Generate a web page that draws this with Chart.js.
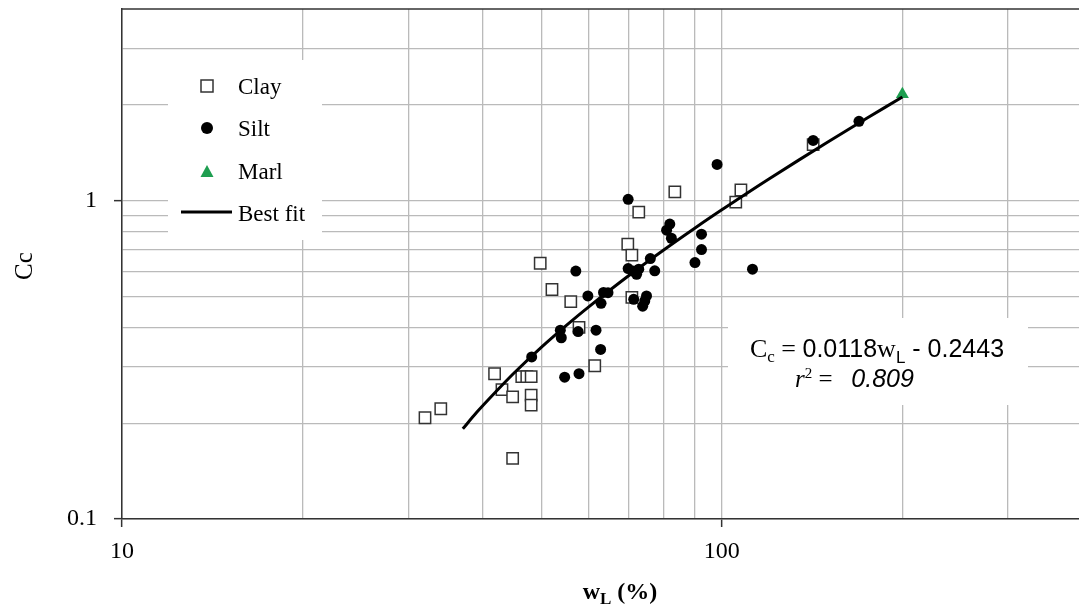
<!DOCTYPE html>
<html lang="en">
<head>
<meta charset="UTF-8">
<title>Cc vs wL</title>
<script src="https://cdn.jsdelivr.net/npm/chart.js"></script>
<style>
  html, body { margin: 0; padding: 0; background: #fff; overflow: hidden; }
  canvas { display: block; }
</style>
</head>
<body>
<canvas id="chart" width="1079" height="608"></canvas>
<script>
// values (log-log axes)
const clayX = [32.0, 34.0, 41.8, 43.0, 44.8, 44.8, 46.4, 47.3, 48.1, 48.1, 48.1, 49.8, 52.1, 56.0, 57.8, 61.4, 69.7, 70.8, 70.8, 72.7, 83.5, 105.5, 107.6, 142];
const clayY = [0.208, 0.222, 0.286, 0.255, 0.242, 0.155, 0.280, 0.280, 0.280, 0.245, 0.228, 0.636, 0.526, 0.482, 0.400, 0.303, 0.730, 0.674, 0.497, 0.920, 1.065, 0.99, 1.08, 1.50];

const siltX = [98.2, 69.8, 81.9, 80.9, 82.4, 92.5, 92.5, 90.2, 76.0, 112.5, 77.3, 69.8, 71.1, 72.1, 72.7, 57.1, 59.8, 63.5, 64.6, 62.9, 71.3, 74.9, 74.4, 73.8, 53.8, 54.0, 57.6, 61.7, 62.8, 48.2, 54.7, 57.8, 142, 169.3];
const siltY = [1.30, 1.01, 0.844, 0.808, 0.762, 0.785, 0.702, 0.639, 0.658, 0.609, 0.602, 0.612, 0.601, 0.587, 0.609, 0.601, 0.502, 0.515, 0.514, 0.476, 0.490, 0.502, 0.484, 0.466, 0.392, 0.371, 0.388, 0.392, 0.341, 0.323, 0.279, 0.286, 1.546, 1.775];

const marlX = [200];
const marlY = [2.16];

// best fit curve
const fitX = [37, 39, 42, 45, 50, 55, 60, 70, 80, 90, 100, 120, 150, 175, 200];
const fitY = [0.192, 0.216, 0.251, 0.287, 0.346, 0.405, 0.464, 0.582, 0.700, 0.818, 0.936, 1.172, 1.526, 1.821, 2.116];

const xTicks = [10, 20, 30, 40, 50, 60, 70, 80, 90, 100, 200, 300];
const yTicks = [0.1, 0.2, 0.3, 0.4, 0.5, 0.6, 0.7, 0.8, 0.9, 1, 2, 3];
const xLabels = [10, 100];
const yLabels = [0.1, 1];

const green = '#1e9e50';
const gridColor = '#bababa';
const frameColor = '#333';

function pts(xs, ys) {
    return xs.map((x, i) => ({ x: x, y: ys[i] }));
}

// draw a row of text pieces: [text, font, dy]
function drawRuns(ctx, runs, x, y) {
    let cx = x;
    runs.forEach(r => {
        ctx.font = r[1];
        ctx.fillText(r[0], cx, y + (r[2] || 0));
        cx += ctx.measureText(r[0]).width;
    });
    return cx;
}
function runsWidth(ctx, runs) {
    let w = 0;
    runs.forEach(r => { ctx.font = r[1]; w += ctx.measureText(r[0]).width; });
    return w;
}

const serif = '"Liberation Serif", "Times New Roman", serif';
const sans = '"Liberation Sans", Arial, sans-serif';

const overlay = {
    id: 'overlay',
    beforeDatasetsDraw(chart) {
        const ctx = chart.ctx;
        const area = chart.chartArea;
        ctx.save();

        // white boxes behind legend and equation
        ctx.fillStyle = '#fff';
        ctx.fillRect(168, 60, 154, 180);
        ctx.fillRect(728, 318, 300, 87);

        // top frame line
        ctx.strokeStyle = frameColor;
        ctx.lineWidth = 1.5;
        ctx.beginPath();
        ctx.moveTo(area.left, area.top);
        ctx.lineTo(area.right, area.top);
        ctx.stroke();

        // legend
        ctx.fillStyle = '#000';
        ctx.textAlign = 'left';
        ctx.textBaseline = 'alphabetic';
        ctx.font = '23px ' + serif;
        ctx.fillText('Clay', 238, 94);
        ctx.fillText('Silt', 238, 136);
        ctx.fillText('Marl', 238, 179);
        ctx.fillText('Best fit', 238, 221);

        ctx.strokeStyle = '#333';
        ctx.lineWidth = 1.5;
        ctx.fillStyle = '#fff';
        ctx.fillRect(201, 80, 12, 12);
        ctx.strokeRect(201, 80, 12, 12);

        ctx.fillStyle = '#000';
        ctx.beginPath();
        ctx.arc(207, 128, 6, 0, Math.PI * 2);
        ctx.fill();

        ctx.fillStyle = green;
        ctx.beginPath();
        ctx.moveTo(207, 165);
        ctx.lineTo(213.5, 177);
        ctx.lineTo(200.5, 177);
        ctx.closePath();
        ctx.fill();

        ctx.strokeStyle = '#000';
        ctx.lineWidth = 3;
        ctx.beginPath();
        ctx.moveTo(181, 212);
        ctx.lineTo(232, 212);
        ctx.stroke();

        // equation
        ctx.fillStyle = '#000';
        const eq = [
            ['C', '26px ' + serif],
            ['c', '17px ' + serif, 5],
            [' = ', '26px ' + serif],
            ['0.0118', '25px ' + sans],
            ['w', '26px ' + serif],
            ['L', '17px ' + sans, 6],
            [' - 0.2443', '25px ' + sans]
        ];
        const w = runsWidth(ctx, eq);
        drawRuns(ctx, eq, 877 - w / 2, 357);
        const r2 = [
            ['r', 'italic 25px ' + serif],
            ['2', '15px ' + serif, -9],
            [' =   ', '25px ' + serif],
            ['0.809', 'italic 25px ' + sans]
        ];
        drawRuns(ctx, r2, 795, 387);

        ctx.restore();
    },
    afterDraw(chart) {
        const ctx = chart.ctx;
        ctx.save();
        ctx.fillStyle = '#000';
        ctx.textBaseline = 'alphabetic';

        // y title
        ctx.save();
        ctx.translate(32, 266);
        ctx.rotate(-Math.PI / 2);
        ctx.textAlign = 'center';
        ctx.font = '25px ' + serif;
        ctx.fillText('Cc', 0, 0);
        ctx.restore();

        // x title
        ctx.textAlign = 'left';
        const xt = [
            ['w', 'bold 24px ' + serif],
            ['L', 'bold 17px ' + serif, 5],
            [' (%)', 'bold 24px ' + serif]
        ];
        const w = runsWidth(ctx, xt);
        drawRuns(ctx, xt, 620 - w / 2, 599);
        ctx.restore();
    }
};

const tickCol = (c) => {
    const v = c.tick ? c.tick.value : null;
    return (v === 10 || v === 100 || v === 0.1 || v === 1) ? frameColor : 'rgba(0,0,0,0)';
};

new Chart(document.getElementById('chart'), {
    type: 'scatter',
    data: {
        datasets: [
            {
                label: 'Best fit',
                type: 'line',
                data: pts(fitX, fitY),
                borderColor: '#000',
                borderWidth: 3,
                pointRadius: 0,
                fill: false,
                tension: 0.3
            },
            {
                label: 'Silt',
                data: pts(siltX, siltY),
                pointStyle: 'circle',
                pointRadius: 5.5,
                backgroundColor: '#000',
                borderColor: '#000',
                borderWidth: 0
            },
            {
                label: 'Clay',
                data: pts(clayX, clayY),
                pointStyle: 'rect',
                pointRadius: 8,
                backgroundColor: '#fff',
                borderColor: '#333',
                borderWidth: 1.5
            },
            {
                label: 'Marl',
                data: pts(marlX, marlY),
                pointStyle: 'triangle',
                pointRadius: 7.5,
                backgroundColor: green,
                borderColor: green,
                borderWidth: 0
            }
        ]
    },
    options: {
        responsive: false,
        animation: false,
        devicePixelRatio: 1,
        layout: { autoPadding: false, padding: { top: 9, right: 0, left: 0, bottom: 0 } },
        plugins: {
            legend: { display: false },
            tooltip: { enabled: false }
        },
        scales: {
            x: {
                type: 'logarithmic',
                min: 10,
                max: 394,
                afterBuildTicks: (s) => { s.ticks = xTicks.map(v => ({ value: v })); },
                afterFit: (s) => {
                    s.height = 89;
                    s.paddingLeft = 0;
                    s.paddingRight = 0;
                },
                grid: {
                    color: gridColor,
                    lineWidth: 1.3,
                    tickLength: 8,
                    tickColor: tickCol,
                    tickWidth: 1.5
                },
                border: { color: frameColor, width: 1.5 },
                ticks: {
                    autoSkip: false,
                    maxRotation: 0,
                    padding: 10,
                    color: '#000',
                    font: { family: serif, size: 24 },
                    callback: (v) => xLabels.includes(v) ? String(v) : ''
                }
            },
            y: {
                type: 'logarithmic',
                min: 0.1,
                max: 4,
                afterBuildTicks: (s) => { s.ticks = yTicks.map(v => ({ value: v })); },
                afterFit: (s) => {
                    s.width = 122;
                    s.paddingTop = 0;
                    s.paddingBottom = 0;
                },
                grid: {
                    color: gridColor,
                    lineWidth: 1.3,
                    tickLength: 8,
                    tickColor: tickCol,
                    tickWidth: 1.5
                },
                border: { color: frameColor, width: 1.5 },
                ticks: {
                    autoSkip: false,
                    padding: 17,
                    color: '#000',
                    font: { family: serif, size: 24 },
                    callback: (v) => yLabels.includes(v) ? String(v) : ''
                }
            }
        }
    },
    plugins: [overlay]
});
</script>
</body>
</html>
